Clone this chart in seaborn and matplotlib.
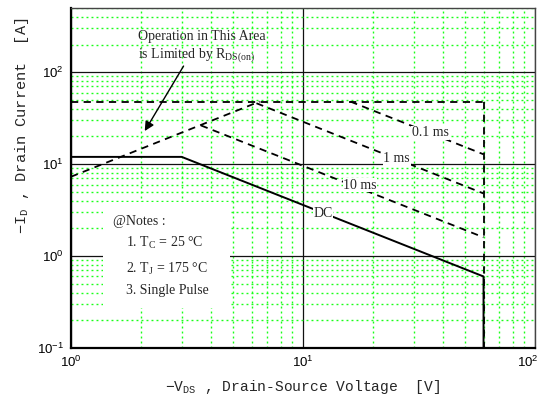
import matplotlib
matplotlib.use("Agg")
import matplotlib.pyplot as plt
import matplotlib.ticker as mticker
from matplotlib.patches import Rectangle
from matplotlib.transforms import ScaledTranslation
import seaborn as sns
import pandas as pd

# ---- data ----
rds_v = [1.0, 6.5]            # R_DS(on) limit
rds_i = [7.3, 48.0]
pulse_v = [1.0, 60.0]         # pulsed current limit
pulse_i = [48.0, 48.0]
ms01_v = [16.0, 60.0]         # 0.1 ms
ms01_i = [48.0, 12.8]
ms1_v = [6.3, 60.0]           # 1 ms
ms1_i = [46.0, 4.8]
ms10_v = [3.63, 60.0]         # 10 ms
ms10_i = [26.4, 1.6]
vmax_v = [60.0, 60.0]         # BV_DSS limit (dashed)
vmax_i = [48.0, 0.1]
dc_v = [1.0, 3.0, 60.0, 60.0]  # DC
dc_i = [12.0, 12.0, 0.6, 0.1]

curve_labels = ["0.1 ms", "1 ms", "10 ms", "DC"]
label_v = [35.3, 25.3, 17.6, 12.2]
label_i = [21.9, 11.5, 5.9, 2.9]

notes = ["@Notes :", "1. T$_C$ = 25 \u00b0C", "2. T$_J$ = 175 \u00b0C", "3. Single Pulse"]

sns.set_style("white")
plt.rcParams["mathtext.default"] = "regular"
plt.rcParams["font.family"] = ["Liberation Serif", "DejaVu Sans"]

fig = plt.figure(figsize=(5.43, 4.0), dpi=100)
ax = fig.add_axes([71 / 543, 52 / 400, 464 / 543, 340 / 400])
ax.set_xscale("log")
ax.set_yscale("log")
ax.set_xlim(1, 100)
ax.set_ylim(0.1, 500)

ax.xaxis.set_minor_locator(mticker.LogLocator(base=10, subs=range(2, 10), numticks=50))
ax.yaxis.set_minor_locator(mticker.LogLocator(base=10, subs=range(2, 10), numticks=50))
ax.xaxis.set_minor_formatter(mticker.NullFormatter())
ax.yaxis.set_minor_formatter(mticker.NullFormatter())
ax.grid(which="minor", color="#1aff1a", linestyle=(0, (1.4, 2.2)), linewidth=1.0)
ax.grid(which="major", color="#111111", linestyle="-", linewidth=0.9)
ax.set_axisbelow(True)

dash = (0, (4, 3))
def draw(v, i, ls, lw):
    df = pd.DataFrame({"V": v, "I": i})
    sns.lineplot(data=df, x="V", y="I", ax=ax, color="black", linestyle=ls,
                 linewidth=lw, sort=False, estimator=None, zorder=3)

draw(rds_v, rds_i, dash, 1.3)
draw(pulse_v, pulse_i, dash, 1.3)
draw(ms01_v, ms01_i, dash, 1.3)
draw(ms1_v, ms1_i, dash, 1.3)
draw(ms10_v, ms10_i, dash, 1.3)
draw(vmax_v, vmax_i, dash, 1.3)
draw(dc_v, dc_i, "-", 1.4)

for txt, xv, yv in zip(curve_labels, label_v, label_i):
    ax.text(xv, yv, txt, ha="center", va="center", fontsize=10, zorder=5,
            bbox=dict(facecolor="white", edgecolor="none", pad=0.5))

# notes box
ax.add_patch(Rectangle((0.069, 0.118), 0.274, 0.311, transform=ax.transAxes,
                       facecolor="white", edgecolor="none", zorder=2.5))
ax.text(0.0905, 0.371, notes[0], transform=ax.transAxes, ha="left", va="center", fontsize=10, zorder=5)
for k, yy in zip(range(1, 4), [0.309, 0.232, 0.168]):
    ax.text(0.1185, yy, notes[k], transform=ax.transAxes, ha="left", va="center", fontsize=10, zorder=5)

# R_DS(on) annotation
ax.text(0.144, 0.915, "Operation in This Area", transform=ax.transAxes,
        ha="left", va="center", fontsize=10, zorder=5)
ax.text(0.144, 0.862, "is Limited by R$_{DS(on)}$", transform=ax.transAxes,
        ha="left", va="center", fontsize=10, zorder=5)
ax.annotate("", xy=(2.05, 21.6), xytext=(3.1, 124),
            arrowprops=dict(arrowstyle="-|>", color="black", lw=1.0,
                            mutation_scale=14), zorder=5)

# axes styling
for s in ["left", "bottom"]:
    ax.spines[s].set_color("black")
    ax.spines[s].set_linewidth(1.6)
for s in ["top", "right"]:
    ax.spines[s].set_color("#444444")
    ax.spines[s].set_linewidth(1.0)
ax.tick_params(which="both", direction="in", colors="black")
ax.tick_params(which="major", length=0, labelsize=9.5, pad=5)
ax.tick_params(which="minor", length=4, width=1.0)
for lab in ax.get_xticklabels() + ax.get_yticklabels():
    lab.set_family(["Liberation Sans", "DejaVu Sans"])

ax.set_xlabel("\u2212V$_{DS}$ , Drain-Source Voltage  [V]", fontsize=10.5,
              family=["Liberation Mono", "DejaVu Sans"], labelpad=6)
ax.set_ylabel("\u2212I$_{D}$ , Drain Current  [A]", fontsize=11,
              family=["Liberation Mono", "DejaVu Sans"])
ax.yaxis.set_label_coords(-0.086, 0.653)

# keep the rightmost x tick label inside the figure
fig.canvas.draw()
for tick in ax.xaxis.get_major_ticks():
    if abs(tick.get_loc() - 100) < 1e-6:
        tick.label1.set_transform(tick.label1.get_transform() +
                                  ScaledTranslation(-5 / 72, 0, fig.dpi_scale_trans))

fig.savefig("out.png", dpi=100)
